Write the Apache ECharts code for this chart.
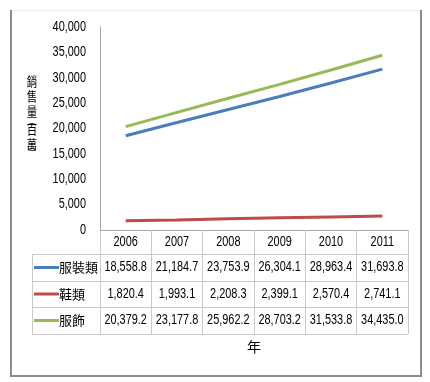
<!DOCTYPE html>
<html><head><meta charset="utf-8">
<script src="https://cdn.jsdelivr.net/npm/echarts@6/dist/echarts.min.js"></script>
<style>html,body{margin:0;padding:0;background:#fff}#c{width:430px;height:382px}</style>
</head><body><div id="c"></div>
<script>
const categories = ['2006', '2007', '2008', '2009', '2010', '2011'];
const seriesNames = ['服裝類', '鞋類', '服飾'];
const clothing = [18558.8, 21184.7, 23753.9, 26304.1, 28963.4, 31693.8];
const shoes = [1820.4, 1993.1, 2208.3, 2399.1, 2570.4, 2741.1];
const apparel = [20379.2, 23177.8, 25962.2, 28703.2, 31533.8, 34435.0];
const seriesValues = [clothing, shoes, apparel];
const colors = ['#4A7EBB', '#BE4B48', '#98B954'];
const yTicks = [0, 5000, 10000, 15000, 20000, 25000, 30000, 35000, 40000];
const yTitleChars = ['銷', '售', '量', '︵', '百', '萬', '︶'];
const xTitle = '年';

const NUMF = '"Liberation Sans",Arial,sans-serif';
const CJKF = '"Noto Sans CJK TC","Noto Sans CJK SC",sans-serif';
const FS = 14, SX = 0.78;
const TBL = '#c9c9c9';
const AX = '#a6a6a6';

// layout
const G = {left: 100, right: 22, top: 27, bottom: 152};
const axisY = 382 - G.bottom;       // 230
const rowEdges = [254, 281, 307, 334];
const tableLeft = 32, tableRight = 430 - G.right;

const fmt = v => v.toLocaleString('en-US', {minimumFractionDigits: 1, maximumFractionDigits: 1});

const chart = echarts.init(document.getElementById('c'), null, {renderer: 'canvas'});

chart.setOption({
  animation: false,
  grid: G,
  xAxis: {
    type: 'category', data: categories,
    axisLine: {show: true, lineStyle: {color: AX, width: 1}},
    axisTick: {show: true, length: rowEdges[3] - axisY, lineStyle: {color: TBL}},
    axisLabel: {show: false},
    name: xTitle, nameLocation: 'middle', nameGap: 110,
    nameTextStyle: {fontFamily: CJKF, fontSize: 14, color: '#000'}
  },
  yAxis: {
    type: 'value', min: yTicks[0], max: yTicks[yTicks.length - 1], interval: yTicks[1] - yTicks[0],
    axisLine: {show: true, lineStyle: {color: AX}},
    axisTick: {show: false}, splitLine: {show: false},
    axisLabel: {show: false}
  },
  series: seriesValues.map((vals, i) => ({
    name: seriesNames[i], type: 'line', data: vals,
    showSymbol: false, symbol: 'none', lineStyle: {color: colors[i], width: 3}, itemStyle: {color: colors[i]}
  }))
});

const numText = (x, y, text, align) => ({
  type: 'text', x: x, y: y, scaleX: SX, silent: true,
  style: {text: text, fontFamily: NUMF, fontSize: FS, fill: '#000', align: align || 'center', verticalAlign: 'middle'}
});

const graphics = [];
// outer frame
graphics.push({type: 'line', shape: {x1: 11, y1: 10.5, x2: 421, y2: 10.5}, style: {stroke: '#ececec', lineWidth: 1}, silent: true});
graphics.push({type: 'line', shape: {x1: 11, y1: 10, x2: 11, y2: 377}, style: {stroke: '#8c8c8c', lineWidth: 2}, silent: true});
graphics.push({type: 'line', shape: {x1: 421, y1: 10, x2: 421, y2: 377}, style: {stroke: '#8c8c8c', lineWidth: 2}, silent: true});
graphics.push({type: 'line', shape: {x1: 10, y1: 376, x2: 422, y2: 376}, style: {stroke: '#8c8c8c', lineWidth: 2}, silent: true});
// table horizontals
rowEdges.forEach(y => {
  graphics.push({type: 'line', shape: {x1: tableLeft, y1: y + 0.5, x2: tableRight, y2: y + 0.5}, style: {stroke: TBL, lineWidth: 1}, silent: true});
});
graphics.push({type: 'line', shape: {x1: tableLeft + 0.5, y1: rowEdges[0], x2: tableLeft + 0.5, y2: rowEdges[3]}, style: {stroke: TBL, lineWidth: 1}, silent: true});
// y tick labels
yTicks.forEach(v => {
  const py = chart.convertToPixel({yAxisIndex: 0}, v);
  graphics.push(numText(86, py, v.toLocaleString('en-US'), 'right'));
});
// header row and values
categories.forEach((c, j) => {
  const px = chart.convertToPixel({xAxisIndex: 0}, c);
  graphics.push(numText(px, (axisY + rowEdges[0]) / 2, c));
  seriesValues.forEach((vals, i) => {
    graphics.push(numText(px, (rowEdges[i] + rowEdges[i + 1]) / 2, fmt(vals[j])));
  });
});
// legend column
seriesNames.forEach((n, i) => {
  const cy = (rowEdges[i] + rowEdges[i + 1]) / 2;
  graphics.push({type: 'line', shape: {x1: 34, y1: cy, x2: 59, y2: cy}, style: {stroke: colors[i], lineWidth: 3}, silent: true});
  graphics.push({type: 'text', x: 59, y: cy, silent: true,
    style: {text: n, fontFamily: CJKF, fontSize: 13, fill: '#000', align: 'left', verticalAlign: 'middle'}});
});
// y axis title (stacked vertical, rich text)
const titleText = yTitleChars.map(ch => (ch === '︵' || ch === '︶') ? '{p|' + ch + '}' : '{c|' + ch + '}').join('\n');
graphics.push({
  type: 'text', x: 32, y: 74, scaleX: 0.8, silent: true,
  style: {
    text: titleText, align: 'center', verticalAlign: 'top', fill: '#000',
    rich: {
      c: {fontFamily: CJKF, fontSize: 13, lineHeight: 15, fill: '#000', align: 'center'},
      p: {fontFamily: CJKF, fontSize: 11, lineHeight: 3, fill: '#000', align: 'center'}
    }
  }
});

chart.setOption({graphic: graphics});
</script></body></html>
